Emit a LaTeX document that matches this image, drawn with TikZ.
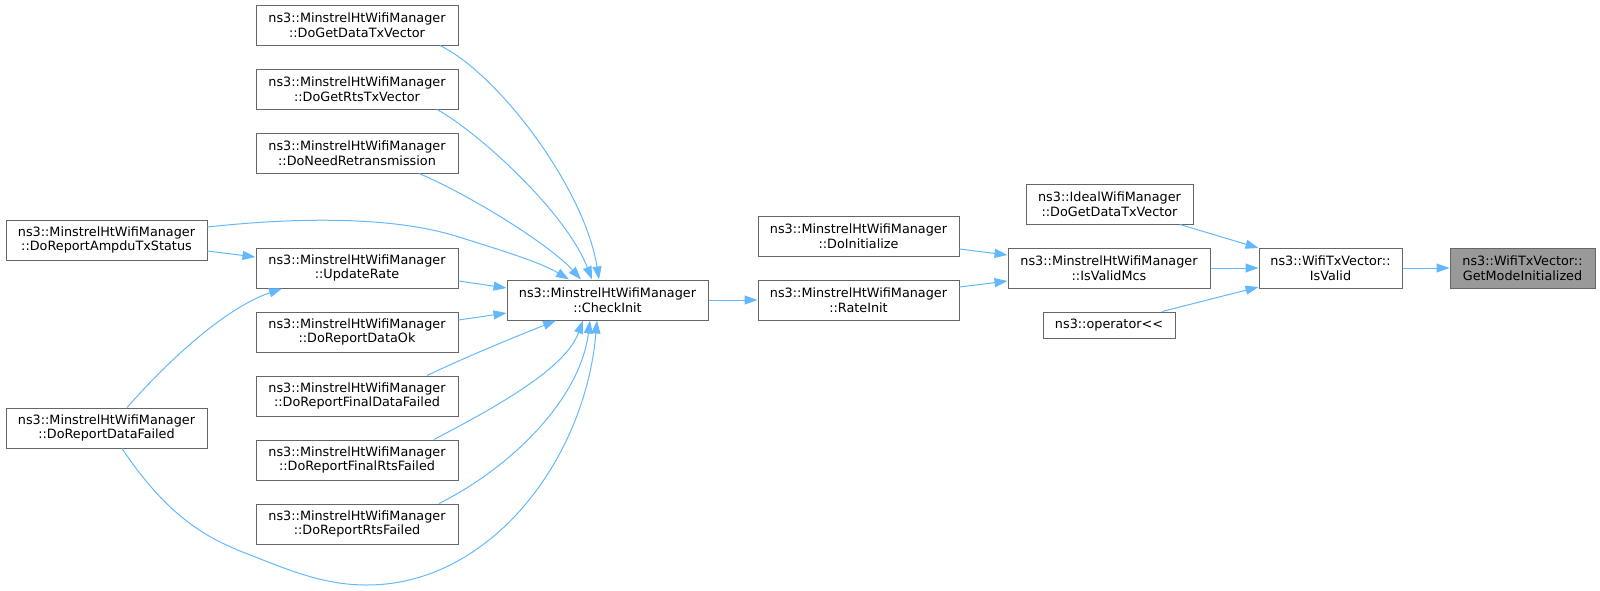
\documentclass[tikz,border=0pt]{standalone}
\usepackage{fontspec}
\setmainfont{DejaVu Sans}
\usetikzlibrary{arrows.meta,calc}
\definecolor{edgeblue}{HTML}{63B8FF}
\definecolor{boxline}{HTML}{666666}
\definecolor{hilite}{HTML}{999999}
\begin{document}
\begin{tikzpicture}[x=1pt,y=-1pt,
  box/.style={draw=boxline, line width=1pt, fill=white, inner sep=0pt,
    minimum height=40pt, align=center, font=\fontsize{12.8}{14.5}\selectfont},
  edge/.style={draw=edgeblue, line width=1pt, -{Triangle[length=13pt,width=9pt]}}]
\useasboundingbox (0,0) rectangle (1600,590);

% left column
\node[box, minimum width=201pt] (amp) at (106.5,240) {ns3::MinstrelHtWifiManager\\::DoReportAmpduTxStatus};
\node[box, minimum width=201pt] (dfail) at (106.5,428) {ns3::MinstrelHtWifiManager\\::DoReportDataFailed};
% second column
\node[box, minimum width=202pt] (gdata) at (357,25) {ns3::MinstrelHtWifiManager\\::DoGetDataTxVector};
\node[box, minimum width=202pt] (grts) at (357,89) {ns3::MinstrelHtWifiManager\\::DoGetRtsTxVector};
\node[box, minimum width=202pt] (nret) at (357,153) {ns3::MinstrelHtWifiManager\\::DoNeedRetransmission};
\node[box, minimum width=202pt] (upd) at (357,268) {ns3::MinstrelHtWifiManager\\::UpdateRate};
\node[box, minimum width=202pt] (dok) at (357,332) {ns3::MinstrelHtWifiManager\\::DoReportDataOk};
\node[box, minimum width=202pt] (fdf) at (357,396) {ns3::MinstrelHtWifiManager\\::DoReportFinalDataFailed};
\node[box, minimum width=202pt] (frf) at (357,460) {ns3::MinstrelHtWifiManager\\::DoReportFinalRtsFailed};
\node[box, minimum width=202pt] (rtsf) at (357,524) {ns3::MinstrelHtWifiManager\\::DoReportRtsFailed};
% middle
\node[box, minimum width=201pt] (ck) at (607.5,300) {ns3::MinstrelHtWifiManager\\::CheckInit};
\node[box, minimum width=201pt] (init) at (858.5,236) {ns3::MinstrelHtWifiManager\\::DoInitialize};
\node[box, minimum width=201pt] (rinit) at (858.5,300) {ns3::MinstrelHtWifiManager\\::RateInit};
\node[box, minimum width=202pt] (mcs) at (1109,268) {ns3::MinstrelHtWifiManager\\::IsValidMcs};
\node[box, minimum width=167pt] (ideal) at (1109.5,204) {ns3::IdealWifiManager\\::DoGetDataTxVector};
\node[box, minimum width=132pt, minimum height=26pt] (op) at (1109,325) {ns3::operator<{}<};
\node[box, minimum width=143pt] (valid) at (1330.5,268) {ns3::WifiTxVector::\\IsValid};
\node[box, minimum width=145pt, fill=hilite] (gmi) at (1522.5,268) {ns3::WifiTxVector::\\GetModeInitialized};

% edges into CheckInit from above
\draw[edge] ($(gdata.south)+(83,0)$) .. controls (500,75) and (585,190) .. ($(ck.north)+(-8.5,0)$);
\draw[edge] ($(grts.south)+(80,0)$) .. controls (475,130) and (565,210) .. ($(ck.north)+(-15.5,0)$);
\draw[edge] ($(nret.south)+(62,0)$) .. controls (470,195) and (550,245) .. ($(ck.north)+(-26.5,0)$);
\draw[edge] ($(amp.east)+(0,-13)$) .. controls (290,218) and (390,215) .. (459,237)
   .. controls (500,250) and (540,262) .. ($(ck.north)+(-38.5,0)$);
% UpdateRate
\draw[edge] ($(amp.east)+(0,11)$) -- ($(upd.west)+(0,-11)$);
\draw[edge] ($(dfail.north)+(20.5,0)$) .. controls (160,370) and (220,310) .. ($(upd.south)+(-75,0)$);
% side edges into CheckInit
\draw[edge] ($(upd.east)+(0,13)$) -- ($(ck.west)+(0,-12)$);
\draw[edge] ($(dok.east)+(0,-12)$) -- ($(ck.west)+(0,13)$);
% edges into CheckInit from below
\draw[edge] ($(fdf.north)+(70,0)$) .. controls (470,355) and (520,335) .. ($(ck.south)+(-51.5,0)$);
\draw[edge] ($(frf.north)+(77,0)$) .. controls (490,410) and (565,370) .. ($(ck.south)+(-24.5,0)$);
\draw[edge] ($(rtsf.north)+(82,0)$) .. controls (510,468) and (580,400) .. ($(ck.south)+(-17.5,0)$);
\draw[edge] ($(dfail.south)+(15.5,0)$) .. controls (170,520) and (210,540) .. (253,556)
   .. controls (300,575) and (330,585) .. (367,585)
   .. controls (490,585) and (585,460) .. ($(ck.south)+(-10.5,0)$);
% right part
\draw[edge] (ck.east) -- (rinit.west);
\draw[edge] ($(init.east)+(0,13)$) -- ($(mcs.west)+(0,-13)$);
\draw[edge] ($(rinit.east)+(0,-13)$) -- ($(mcs.west)+(0,13)$);
\draw[edge] (mcs.east) -- (valid.west);
\draw[edge] ($(ideal.south)+(70.5,0)$) -- ($(valid.west)+(0,-20)$);
\draw[edge] ($(op.north)+(53,0)$) -- ($(valid.west)+(0,19)$);
\draw[edge] (valid.east) -- (gmi.west);
\end{tikzpicture}
\end{document}
